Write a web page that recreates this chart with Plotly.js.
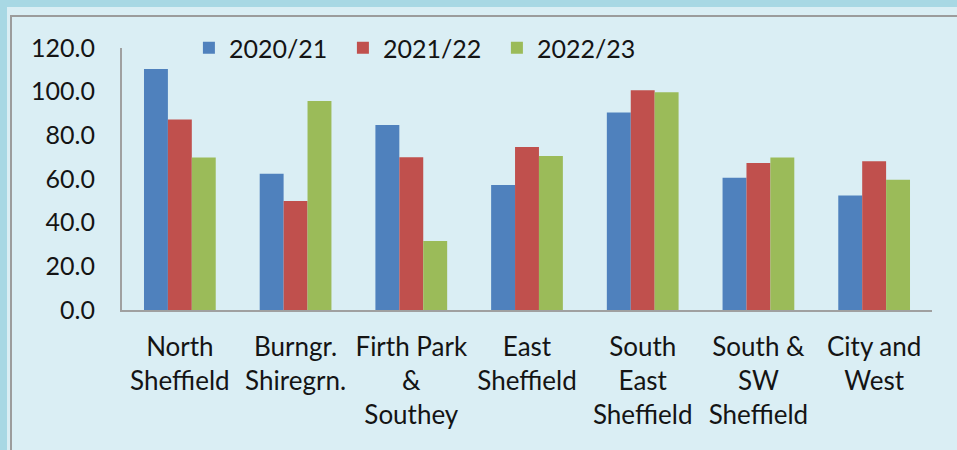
<!DOCTYPE html>
<html>
<head>
<meta charset="utf-8">
<script src="https://cdn.plot.ly/plotly-3.0.1.min.js"></script>
<style>
  html, body { margin:0; padding:0; width:957px; height:450px; overflow:hidden; background:#a8d8e4; }
  #bg { position:absolute; left:7px; top:7px; width:950px; height:443px; background:#daeef4; }
  #frame { position:absolute; left:10px; top:15px; width:960px; height:450px; border-left:2px solid #9c9c9c; border-top:2px solid #9c9c9c; }
  #chart { position:absolute; left:0; top:0; width:957px; height:450px; }
</style>
</head>
<body>
<div id="bg"></div>
<div id="frame"></div>
<div id="chart"></div>
<script>
const categories = [
  "North<br>Sheffield",
  "Burngr.<br>Shiregrn.",
  "Firth Park<br>&<br>Southey",
  "East<br>Sheffield",
  "South<br>East<br>Sheffield",
  "South &<br>SW<br>Sheffield",
  "City and<br>West"
];
const seriesNames = ["2020/21", "2021/22", "2022/23"];
const values2020 = [110.4, 62.4, 84.7, 57.3, 90.5, 60.6, 52.4];
const values2021 = [87.3, 49.9, 70.0, 74.7, 100.6, 67.3, 68.1];
const values2022 = [69.8, 95.7, 31.6, 70.5, 99.7, 69.8, 59.7];
const colors = ["#4f81bd", "#c0504d", "#9bbb59"];

const allValues = [values2020, values2021, values2022];
const traces = allValues.map((vals, i) => ({
  type: "bar",
  name: seriesNames[i],
  x: categories,
  y: vals,
  marker: { color: colors[i], line: { width: 0 } },
  hoverinfo: "skip"
}));

const fontFam = "Lato, 'DejaVu Sans', sans-serif";
const textCol = "#141414";
const layout = {
  width: 957, height: 450,
  margin: { l: 122, r: 25, t: 48, b: 140, pad: 0 },
  paper_bgcolor: "rgba(0,0,0,0)",
  plot_bgcolor: "rgba(0,0,0,0)",
  barmode: "group",
  bargap: 0.38,
  bargroupgap: 0,
  font: { family: fontFam, size: 25, color: textCol },
  showlegend: true,
  legend: {
    orientation: "h",
    x: 0.0826, xanchor: "left",
    y: 1.0, yanchor: "middle",
    bgcolor: "rgba(0,0,0,0)",
    font: { family: fontFam, size: 25, color: textCol },
    entrywidth: 109,
    itemwidth: 30
  },
  xaxis: {
    type: "category",
    showline: true, linecolor: "#a0a0a0", linewidth: 2,
    showgrid: false, zeroline: false,
    ticks: "", ticklabelstandoff: 13,
    tickfont: { family: fontFam, size: 26, color: textCol },
    fixedrange: true
  },
  yaxis: {
    range: [0, 120], dtick: 20, tick0: 0, tickformat: ".1f",
    showline: true, linecolor: "#a0a0a0", linewidth: 2,
    showgrid: false, zeroline: false,
    ticks: "", ticklabelstandoff: 20,
    tickfont: { family: fontFam, size: 25, color: textCol },
    fixedrange: true
  }
};

Plotly.newPlot("chart", traces, layout, { staticPlot: true, displayModeBar: false });
</script>
</body>
</html>
